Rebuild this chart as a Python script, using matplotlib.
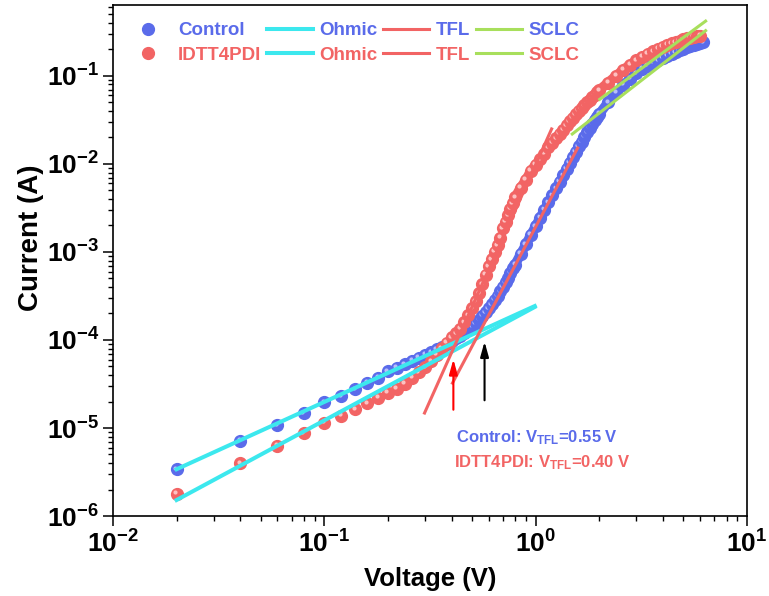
import numpy as np
import matplotlib
matplotlib.use("Agg")
import matplotlib.pyplot as plt
from matplotlib.lines import Line2D
from matplotlib.transforms import offset_copy

plt.rcParams["font.family"] = ["Liberation Sans", "DejaVu Sans"]
plt.rcParams["font.weight"] = "bold"
plt.rcParams["axes.labelweight"] = "bold"
plt.rcParams["mathtext.fontset"] = "custom"
plt.rcParams["mathtext.rm"] = "Liberation Sans:bold"
plt.rcParams["mathtext.bf"] = "Liberation Sans:bold"
plt.rcParams["mathtext.it"] = "Liberation Sans:bold"
plt.rcParams["mathtext.default"] = "bf"

# forward sweep voltages (V)
voltage = [0.02, 0.04, 0.06, 0.08, 0.10, 0.12, 0.14, 0.16, 0.18, 0.20,
           0.22, 0.24, 0.26, 0.28, 0.30, 0.32, 0.34, 0.36, 0.38, 0.40,
           0.42, 0.44, 0.46, 0.48, 0.50, 0.52, 0.54, 0.56, 0.58, 0.60,
           0.62, 0.64, 0.66, 0.68, 0.70, 0.72, 0.74, 0.76, 0.78, 0.80,
           0.85, 0.90, 0.95, 1.00, 1.05, 1.10, 1.15, 1.20, 1.25, 1.30,
           1.35, 1.40, 1.45, 1.50, 1.55, 1.60, 1.65, 1.70, 1.75, 1.80,
           1.85, 1.90, 1.95, 2.00, 2.2, 2.4, 2.6, 2.8, 3.0, 3.2,
           3.4, 3.6, 3.8, 4.0, 4.2, 4.4, 4.6, 4.8, 5.0, 5.2,
           5.4, 5.6, 5.8, 6.0, 6.2]

# current (A), Control device
ctrl_current = [3.4e-6, 7.2e-6, 1.08e-5, 1.48e-5, 1.95e-5, 2.3e-5, 2.75e-5, 3.25e-5, 3.7e-5, 4.4e-5,
                4.85e-5, 5.3e-5, 5.8e-5, 6.3e-5, 6.8e-5, 7.3e-5, 7.8e-5, 8.4e-5, 9.0e-5, 9.7e-5,
                1.04e-4, 1.12e-4, 1.2e-4, 1.3e-4, 1.42e-4, 1.55e-4, 1.7e-4, 1.88e-4, 2.08e-4, 2.3e-4,
                2.55e-4, 2.85e-4, 3.2e-4, 3.6e-4, 4.05e-4, 4.55e-4, 5.1e-4, 5.8e-4, 6.5e-4, 7.2e-4,
                9.5e-4, 1.22e-3, 1.57e-3, 1.96e-3, 2.45e-3, 3.0e-3, 3.65e-3, 4.4e-3, 5.3e-3, 6.3e-3,
                7.4e-3, 8.8e-3, 1.03e-2, 1.2e-2, 1.38e-2, 1.58e-2, 1.8e-2, 2.04e-2, 2.3e-2, 2.57e-2,
                2.85e-2, 3.15e-2, 3.45e-2, 3.7e-2, 5.0e-2, 6.5e-2, 7.9e-2, 9.3e-2, 0.107, 0.12,
                0.13, 0.141, 0.151, 0.16, 0.17, 0.178, 0.186, 0.195, 0.204, 0.213,
                0.22, 0.227, 0.232, 0.236, 0.24]

# current (A), IDTT4PDI device (ends at 6.0 V)
idtt_current = [1.8e-6, 4.0e-6, 6.3e-6, 8.7e-6, 1.14e-5, 1.37e-5, 1.64e-5, 1.92e-5, 2.2e-5, 2.5e-5,
                2.8e-5, 3.2e-5, 3.7e-5, 4.3e-5, 4.9e-5, 5.75e-5, 6.8e-5, 8.1e-5, 9.3e-5, 1.07e-4,
                1.2e-4, 1.35e-4, 1.6e-4, 1.9e-4, 2.3e-4, 2.75e-4, 3.4e-4, 4.3e-4, 5.5e-4, 6.9e-4,
                8.3e-4, 1.0e-3, 1.2e-3, 1.45e-3, 1.85e-3, 2.2e-3, 2.6e-3, 3.1e-3, 3.6e-3, 4.2e-3,
                5.4e-3, 6.6e-3, 8.4e-3, 9.8e-3, 1.13e-2, 1.3e-2, 1.55e-2, 1.75e-2, 1.95e-2, 2.2e-2,
                2.45e-2, 2.75e-2, 3.05e-2, 3.35e-2, 3.65e-2, 4.0e-2, 4.3e-2, 4.65e-2, 5.0e-2, 5.35e-2,
                5.7e-2, 6.1e-2, 6.5e-2, 6.9e-2, 8.4e-2, 0.1, 0.118, 0.134, 0.15, 0.165,
                0.178, 0.19, 0.203, 0.214, 0.225, 0.234, 0.243, 0.252, 0.26, 0.267,
                0.273, 0.278, 0.282, 0.285]

# fitted lines: end points (V, A)
ohmic_v = [0.02, 0.99]
ohmic_ctrl = [3.4e-6, 2.43e-4]
ohmic_idtt = [1.52e-6, 2.37e-4]
tfl_ctrl_v = [0.404, 1.58]
tfl_ctrl = [3.24e-5, 1.52e-2]
tfl_idtt_v = [0.298, 1.19]
tfl_idtt = [1.48e-5, 2.5e-2]
sclc_ctrl_v = [1.49, 6.37]
sclc_ctrl = [2.19e-2, 0.327]
sclc_idtt_v = [2.01, 6.37]
sclc_idtt = [5.43e-2, 0.42]

# V_TFL arrows
vtfl_ctrl = 0.573
vtfl_idtt = 0.408

blue = "#5A6BEA"
red = "#F26464"
cyan = "#3CE8EE"
green = "#A8DF5C"

fig = plt.figure(figsize=(7.69, 5.96), dpi=100)
ax = fig.add_axes([0.1469, 0.1342, 0.8245, 0.8574])
ax.set_xscale("log")
ax.set_yscale("log")
ax.set_xlim(0.01, 10)
ax.set_ylim(1e-6, 0.64)


def draw_spheres(v, cur, base, light, z0):
    v = np.asarray(v)
    cur = np.asarray(cur)
    dense = v >= 0.8
    ax.plot(v[dense], cur[dense], "-", lw=7, color=base, solid_capstyle="round", zorder=z0)
    hl = offset_copy(ax.transData, fig=fig, x=-1.5, y=1.5, units="dots")
    z = z0
    for x, y in zip(v, cur):
        z += 0.001
        ax.plot(x, y, "o", ms=8.5, color=base, mec=base, zorder=z)
        ax.plot(x, y, "o", ms=3.0, color=light, mec="none", alpha=0.85, transform=hl, zorder=z + 0.0005)


draw_spheres(voltage, ctrl_current, blue, "#C9CEFF", 2)
draw_spheres(voltage[:len(idtt_current)], idtt_current, red, "#FFD2D2", 3)

ax.plot(ohmic_v, ohmic_ctrl, color=cyan, lw=2.9, zorder=5)
ax.plot(ohmic_v, ohmic_idtt, color=cyan, lw=2.9, zorder=5)
ax.plot(tfl_ctrl_v, tfl_ctrl, color=red, lw=2.2, zorder=5)
ax.plot(tfl_idtt_v, tfl_idtt, color=red, lw=2.2, zorder=5)
ax.plot(sclc_ctrl_v, sclc_ctrl, color=green, lw=2.2, zorder=5)
ax.plot(sclc_idtt_v, sclc_idtt, color=green, lw=2.2, zorder=5)

ax.annotate("", xy=(vtfl_idtt, 6.5e-5), xytext=(vtfl_idtt, 1.5e-5),
            arrowprops=dict(arrowstyle="-|>,head_width=0.25,head_length=0.9", color="red", lw=1.5), zorder=6)
ax.annotate("", xy=(vtfl_ctrl, 1.03e-4), xytext=(vtfl_ctrl, 1.92e-5),
            arrowprops=dict(arrowstyle="-|>,head_width=0.25,head_length=0.9", color="black", lw=1.5), zorder=6)

ax.text(1.01, 7.7e-6, r"Control: V$_{\mathbf{TFL}}$=0.55 V", color=blue, fontsize=12,
        ha="center", va="center")
ax.text(1.07, 4.0e-6, r"IDTT4PDI: V$_{\mathbf{TFL}}$=0.40 V", color=red, fontsize=12,
        ha="center", va="center")

handles = [
    Line2D([], [], ls="none", marker="o", ms=8.5, color=blue),
    Line2D([], [], ls="none", marker="o", ms=8.5, color=red),
    Line2D([], [], color=cyan, lw=2.9), Line2D([], [], color=cyan, lw=2.9),
    Line2D([], [], color=red, lw=2.2), Line2D([], [], color=red, lw=2.2),
    Line2D([], [], color=green, lw=2.2), Line2D([], [], color=green, lw=2.2),
]
labels = ["Control", "IDTT4PDI", "Ohmic", "Ohmic", "TFL", "TFL", "SCLC", "SCLC"]
leg = ax.legend(handles, labels, ncol=4, loc="upper left", bbox_to_anchor=(0.005, 0.985),
                frameon=False, fontsize=13.5, handlelength=2.45, handletextpad=0.35,
                columnspacing=0.3, labelspacing=0.4, borderpad=0.3, borderaxespad=0.2)
for t, c in zip(leg.get_texts(), [blue, red] * 4):
    t.set_color(c)

ax.set_xlabel("Voltage (V)", fontsize=18.5, labelpad=7)
ax.set_ylabel("Current (A)", fontsize=20)
ax.yaxis.set_label_coords(-0.108, 0.545)
ax.tick_params(which="major", direction="out", length=7, width=1.1, labelsize=19, pad=3,
               top=False, right=False)
ax.tick_params(which="minor", direction="out", length=3.5, width=1.0, top=False, right=False)
for s in ax.spines.values():
    s.set_linewidth(1.2)

fig.savefig("out.png", dpi=100)
